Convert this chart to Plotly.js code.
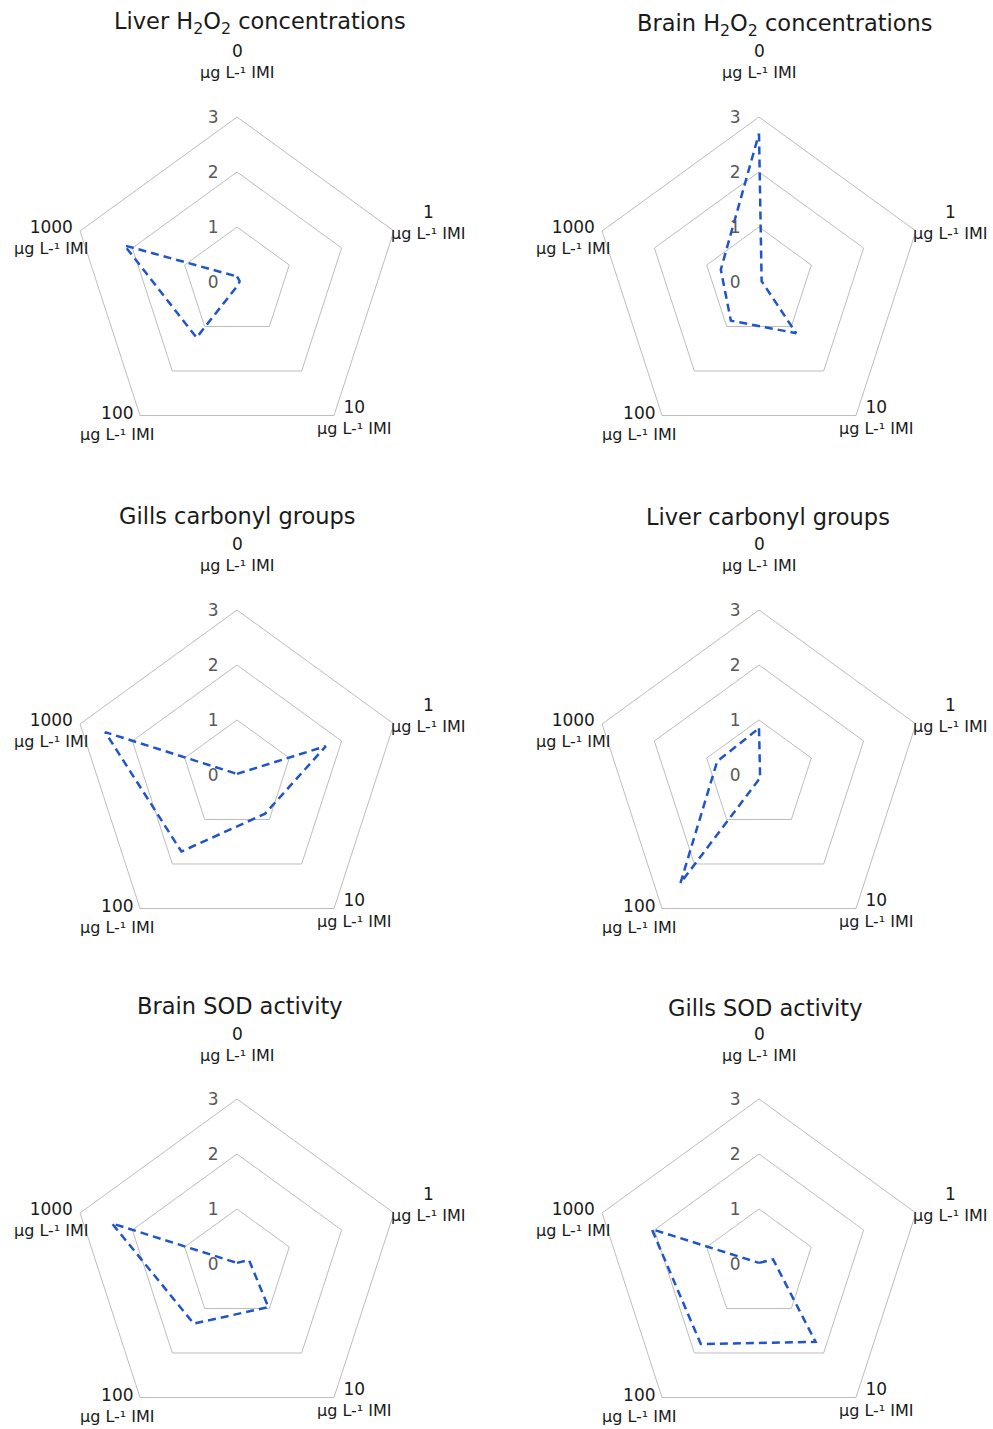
<!DOCTYPE html>
<html><head><meta charset="utf-8">
<script src="https://cdn.plot.ly/plotly-3.0.1.min.js"></script>
<style>body{margin:0;background:#fff}#chart{width:993px;height:1429px}</style>
</head><body><div id="chart"></div>
<script>
// ---- data ----
const doses = ['0', '1', '10', '100', '1000'];
const unitLabel = 'µg L-¹ IMI';
const titles = [
  'Liver H<sub>2</sub>O<sub>2</sub> concentrations',
  'Brain H<sub>2</sub>O<sub>2</sub> concentrations',
  'Gills carbonyl groups',
  'Liver carbonyl groups',
  'Brain SOD activity',
  'Gills SOD activity'
];
const liverH2O2     = [0.10, 0.05, 0.05, 1.25, 2.15];
const brainH2O2     = [2.70, 0.05, 1.15, 0.87, 0.73];
const gillsCarbonyl = [0.02, 1.70, 0.87, 1.72, 2.52];
const liverCarbonyl = [0.85, 0.02, 0.05, 2.43, 0.80];
const brainSOD      = [0.02, 0.23, 0.97, 1.34, 2.39];
const gillsSOD      = [0.02, 0.27, 1.75, 1.80, 2.05];
const radialTicks   = [0, 1, 2, 3];
const radialRange   = [0, 3];

const series = [liverH2O2, brainH2O2, gillsCarbonyl, liverCarbonyl, brainSOD, gillsSOD];

// ---- layout geometry (px) ----
const W = 993, H = 1429, R = 165;
const colX = [237, 759];
const rowY = [282, 775, 1264];
const titleX = [260, 785, 237, 768, 240, 765];
const titleY = [23, 25, 516, 517, 1006, 1008];
// offsets of category label block centre from its pentagon vertex
const labelOff = [[0, -55], [35, -9], [21, 2], [-23, 8], [-29, 6]];

const FONT = 'DejaVu Sans, Verdana, sans-serif';
const gridGray = '#bdbdbd';
const lineBlue = '#1f55c8';

const traces = [];
const layout = {
  width: W, height: H,
  margin: {l: 0, r: 0, t: 0, b: 0},
  paper_bgcolor: '#fff',
  showlegend: false,
  font: {family: FONT},
  annotations: []
};

series.forEach((vals, i) => {
  const col = i % 2, row = Math.floor(i / 2);
  const cx = colX[col], cy = rowY[row];
  const key = i === 0 ? 'polar' : 'polar' + (i + 1);
  traces.push({
    type: 'scatterpolar',
    subplot: key,
    r: vals.concat([vals[0]]),
    theta: doses.concat([doses[0]]),
    mode: 'lines',
    line: {color: lineBlue, width: 2.5, dash: '8px,5px'},
    hoverinfo: 'skip'
  });
  layout[key] = {
    domain: {x: [(cx - R) / W, (cx + R) / W], y: [Math.max(0, 1 - (cy + R) / H), 1 - (cy - R) / H]},
    gridshape: 'linear',
    bgcolor: 'rgba(0,0,0,0)',
    radialaxis: {
      range: radialRange, tickvals: radialTicks, angle: 90, side: 'counterclockwise',
      showline: false, showgrid: true, gridcolor: gridGray, gridwidth: 1,
      ticks: 'outside', ticklen: 12, tickcolor: 'rgba(0,0,0,0)',
      tickfont: {size: 17, color: '#595959', family: FONT}, tickangle: 90
    },
    angularaxis: {
      type: 'category', categoryarray: doses, direction: 'clockwise', rotation: 90,
      showgrid: false, showline: true, linecolor: gridGray, linewidth: 1,
      ticks: '', showticklabels: false
    }
  };
  // title
  layout.annotations.push({
    xref: 'paper', yref: 'paper', x: titleX[i] / W, y: 1 - titleY[i] / H,
    xanchor: 'center', yanchor: 'middle', showarrow: false,
    text: titles[i], font: {size: 22.5, color: '#1a1a1a', family: FONT}
  });
  // category labels
  doses.forEach((d, k) => {
    const ang = (90 - 72 * k) * Math.PI / 180;
    const vx = cx + R * Math.cos(ang), vy = cy - R * Math.sin(ang);
    layout.annotations.push({
      xref: 'paper', yref: 'paper',
      x: (vx + labelOff[k][0]) / W, y: 1 - (vy + labelOff[k][1]) / H,
      xanchor: 'center', yanchor: 'middle', showarrow: false, align: 'center',
      text: '<span style="font-size:17px">' + d + '</span><br>' + unitLabel,
      font: {size: 16, color: '#1a1a1a', family: FONT}
    });
  });
});

Plotly.newPlot('chart', traces, layout, {displayModeBar: false, staticPlot: true});
</script>
</body></html>
